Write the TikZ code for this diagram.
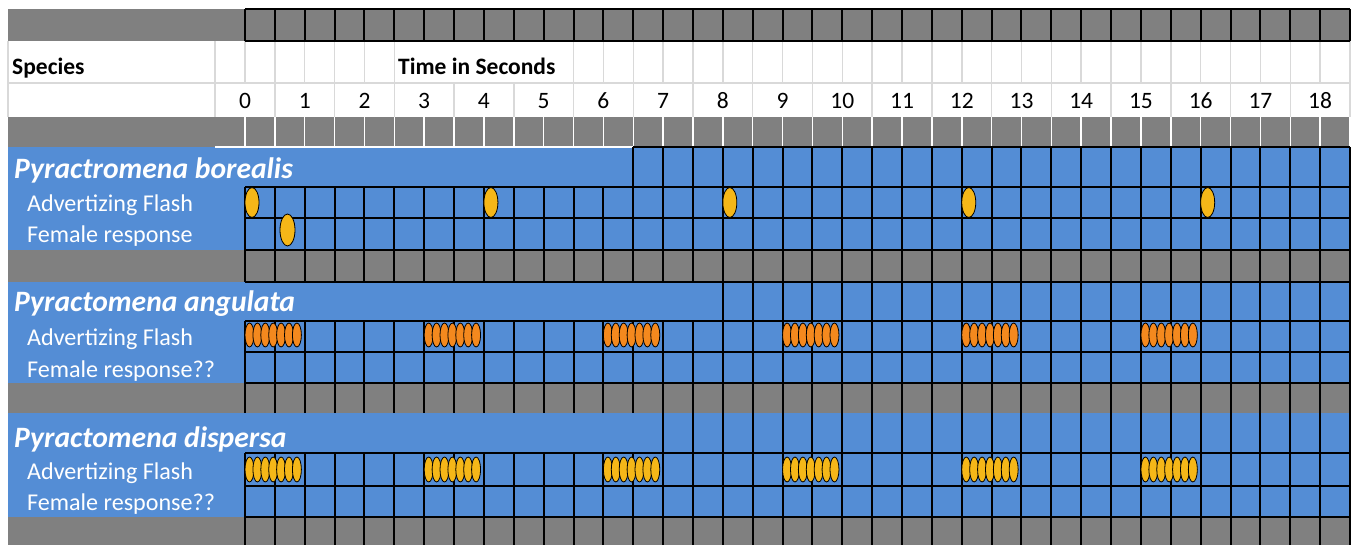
\documentclass[tikz,border=0pt]{standalone}
\usepackage{fontspec}
\setmainfont{Carlito}
\definecolor{rowblue}{RGB}{84,141,213}
\definecolor{rowgray}{RGB}{128,128,128}
\definecolor{cellline}{RGB}{217,217,217}
\definecolor{flashgold}{RGB}{245,183,24}
\definecolor{flashorange}{RGB}{244,137,30}

\begin{document}
\begin{tikzpicture}[x=1pt,y=-1pt,
    txt/.style={anchor=base west, inner sep=0pt, font=\fontsize{23.5}{24}\selectfont},
    hdr/.style={txt, font=\fontsize{23.5}{24}\selectfont\bfseries},
    num/.style={anchor=base, inner sep=0pt, font=\fontsize{23.5}{24}\selectfont},
    spname/.style={anchor=base west, inner sep=0pt, text=white, font=\fontsize{29.6}{30}\selectfont\bfseries\itshape},
    rowlbl/.style={txt, text=white, font=\fontsize{24.1}{25}\selectfont},
    gridline/.style={black, line width=2pt},
    paleline/.style={cellline, line width=1.5pt},
    whiteline/.style={white, line width=1.5pt},
    flash/.style={draw=black, line width=0.8pt}]
\useasboundingbox (0,0) rectangle (1353,545);
\def\cw{29.865}

% row bands
\fill[rowgray] (8,9) rectangle (1351,41);
\fill[rowgray] (8,117) rectangle (1351,147);
\fill[rowblue] (8,147) rectangle (1351,250);
\fill[rowgray] (8,250) rectangle (1351,282);
\fill[rowblue] (8,282) rectangle (1351,383);
\fill[rowgray] (8,383) rectangle (1351,413);
\fill[rowblue] (8,413) rectangle (1351,517);
\fill[rowgray] (8,517) rectangle (1351,545);

% pale lines of the header rows
\draw[paleline] (8,83) -- (1350,83);
\draw[paleline] (8,41) -- (8,117);
\draw[paleline] (215,41) -- (215,117);
\foreach \k in {0,...,5,11,12,...,37}
  \draw[paleline] ({245+\k*\cw},41) -- ({245+\k*\cw},83);
\foreach \k in {1,3,...,37}
  \draw[paleline] ({245+\k*\cw},83) -- ({245+\k*\cw},117);

% white lines of the gray time row
\foreach \k in {0,...,37}
  \draw[whiteline] ({245+\k*\cw},117) -- ({245+\k*\cw},147);
\draw[whiteline] (215,147) -- ({245+13*\cw},147);

% black grid
\foreach \y in {9,41}
  \draw[gridline] (245,\y) -- ({245+37*\cw},\y);
\draw[gridline] ({245+13*\cw},147) -- ({245+37*\cw},147);
\foreach \y in {187,218,250,282,321,352,383,453,486,517}
  \draw[gridline] (245,\y) -- ({245+37*\cw},\y);
\foreach \k in {0,...,37} {
  \draw[gridline] ({245+\k*\cw},9) -- ({245+\k*\cw},41);
  \draw[gridline] ({245+\k*\cw},187) -- ({245+\k*\cw},282);
  \draw[gridline] ({245+\k*\cw},321) -- ({245+\k*\cw},413);
  \draw[gridline] ({245+\k*\cw},453) -- ({245+\k*\cw},545);
}
\foreach \k in {13,...,37}
  \draw[gridline] ({245+\k*\cw},147) -- ({245+\k*\cw},187);
\foreach \k in {16,...,37}
  \draw[gridline] ({245+\k*\cw},282) -- ({245+\k*\cw},321);
\foreach \k in {14,...,37}
  \draw[gridline] ({245+\k*\cw},413) -- ({245+\k*\cw},453);

% header texts
\node[hdr] (species) at (12,75) {Species};
\node[hdr] (timelbl) at (398,75) {Time in Seconds};
\foreach \t in {0,...,18}
  \node[num] (sec\t) at ({245+2*\t*\cw},109) {\t};

% species blocks
\node[spname] (borealis) at (14,179) {Pyractromena borealis};
\node[rowlbl] (boradv) at (27,212) {Advertizing Flash};
\node[rowlbl] (borfem) at (27,243) {Female response};

\node[spname] (angulata) at (14,312) {Pyractomena angulata};
\node[rowlbl] (angadv) at (27,346) {Advertizing Flash};
\node[rowlbl] (angfem) at (27,378) {Female response??};

\node[spname] (dispersa) at (14,447) {Pyractomena dispersa};
\node[rowlbl] (disadv) at (27,479) {Advertizing Flash};
\node[rowlbl] (disfem) at (27,510) {Female response??};

% flashes
\foreach \t in {0,4,8,12,16}
  \draw[flash, fill=flashgold] ({252+2*\t*\cw},202.5) ellipse (7 and 15);
\draw[flash, fill=flashgold] (287.5,230) ellipse (7.5 and 16);
\foreach \t in {0,3,...,15}
  \foreach \i in {0,...,6} {
    \draw[flash, fill=flashorange] ({249.5+2*\t*\cw+7.9*\i},335) ellipse (4.5 and 12);
    \draw[flash, fill=flashgold] ({249.5+2*\t*\cw+7.9*\i},469.5) ellipse (4.5 and 12.5);
  }
\end{tikzpicture}
\end{document}
